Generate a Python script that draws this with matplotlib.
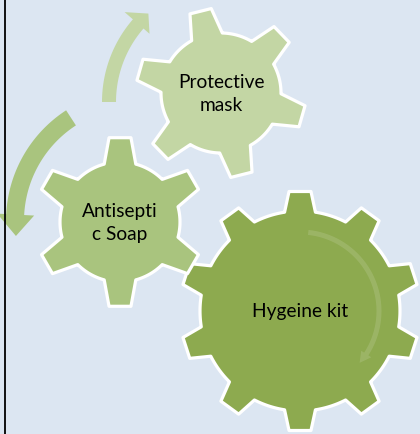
import numpy as np
import matplotlib
matplotlib.use('Agg')
import matplotlib.pyplot as plt
from matplotlib.patches import Polygon

# Diagram content: three interlocking gears (largest first)
labels = ['Hygeine kit', 'Antisepti\nc Soap', 'Protective\nmask']
teeth = [10, 6, 6]
fills = ['#8DAA4F', '#A9C47E', '#C3D6A4']

# Layout in pixel units (y grows downward)
centers = [(300, 311), (120, 222), (221, 93)]
r_root = [100, 60, 60]
r_tip = [120, 85, 85]
rotation = [90, 90, 104]
tooth_base = [31, 32, 32]
tooth_tip = [22, 22, 22]

BG = '#DCE6F2'
W, H = 420, 434


def gear_outline(cx, cy, rr, rt, n, rot, wb, wt):
    hb = np.degrees(wb / 2 / rr)
    ht = np.degrees(wt / 2 / rt)
    pts = []
    for i in range(n):
        a = rot + 360.0 * i / n
        nxt = a + 360.0 / n
        pts.append((rr, a - hb))
        pts.append((rt, a - ht))
        pts.append((rt, a + ht))
        pts.append((rr, a + hb))
        for b in np.linspace(a + hb, nxt - hb, 20)[1:-1]:
            pts.append((rr, b))
    return [(cx + r * np.cos(np.radians(t)), cy - r * np.sin(np.radians(t))) for r, t in pts]


def arc_arrow(cx, cy, r_in, r_out, a0, a_head, a_tip, h_in, h_out):
    def p(r, t):
        return (cx + r * np.cos(np.radians(t)), cy - r * np.sin(np.radians(t)))
    pts = [p(r_out, t) for t in np.linspace(a0, a_head, 40)]
    pts += [p(h_out, a_head), p((r_in + r_out) / 2, a_tip), p(h_in, a_head)]
    pts += [p(r_in, t) for t in np.linspace(a_head, a0, 40)]
    return pts


fig = plt.figure(figsize=(W / 100, H / 100), dpi=100)
fig.patch.set_facecolor(BG)
ax = fig.add_axes([0, 0, 1, 1])
ax.set_xlim(0, W)
ax.set_ylim(H, 0)
ax.set_facecolor(BG)
ax.axis('off')

for i in range(len(labels)):
    cx, cy = centers[i]
    outline = gear_outline(cx, cy, r_root[i], r_tip[i], teeth[i], rotation[i],
                           tooth_base[i], tooth_tip[i])
    ax.add_patch(Polygon(outline, closed=True, facecolor=fills[i], edgecolor='white',
                         linewidth=2.3, joinstyle='round', zorder=2 + i))
    ax.text(cx, cy + 1, labels[i], ha='center', va='center', fontsize=13.8,
            family='Lato', color='black', linespacing=1.38, zorder=10)

# faint rotation arrow inside the big gear
ax.add_patch(Polygon(arc_arrow(300, 311, 76.5, 81.5, 84, -33, -41, 73, 85),
                     closed=True, facecolor='white', alpha=0.13, edgecolor='none', zorder=6))

# circular arrows between gears
ax.add_patch(Polygon(arc_arrow(228, 102, 112, 126, 180, 139, 132, 104, 137),
                     closed=True, facecolor=fills[2], edgecolor='none', zorder=6))
ax.add_patch(Polygon(arc_arrow(138, 221, 114, 132, 123, 177, 187, 104, 141),
                     closed=True, facecolor=fills[1], edgecolor='none', zorder=6))

# left border line
ax.plot([4.5, 4.5], [0, H], color='black', linewidth=1.3, zorder=20)

fig.savefig('out.png', dpi=100, facecolor=BG)
